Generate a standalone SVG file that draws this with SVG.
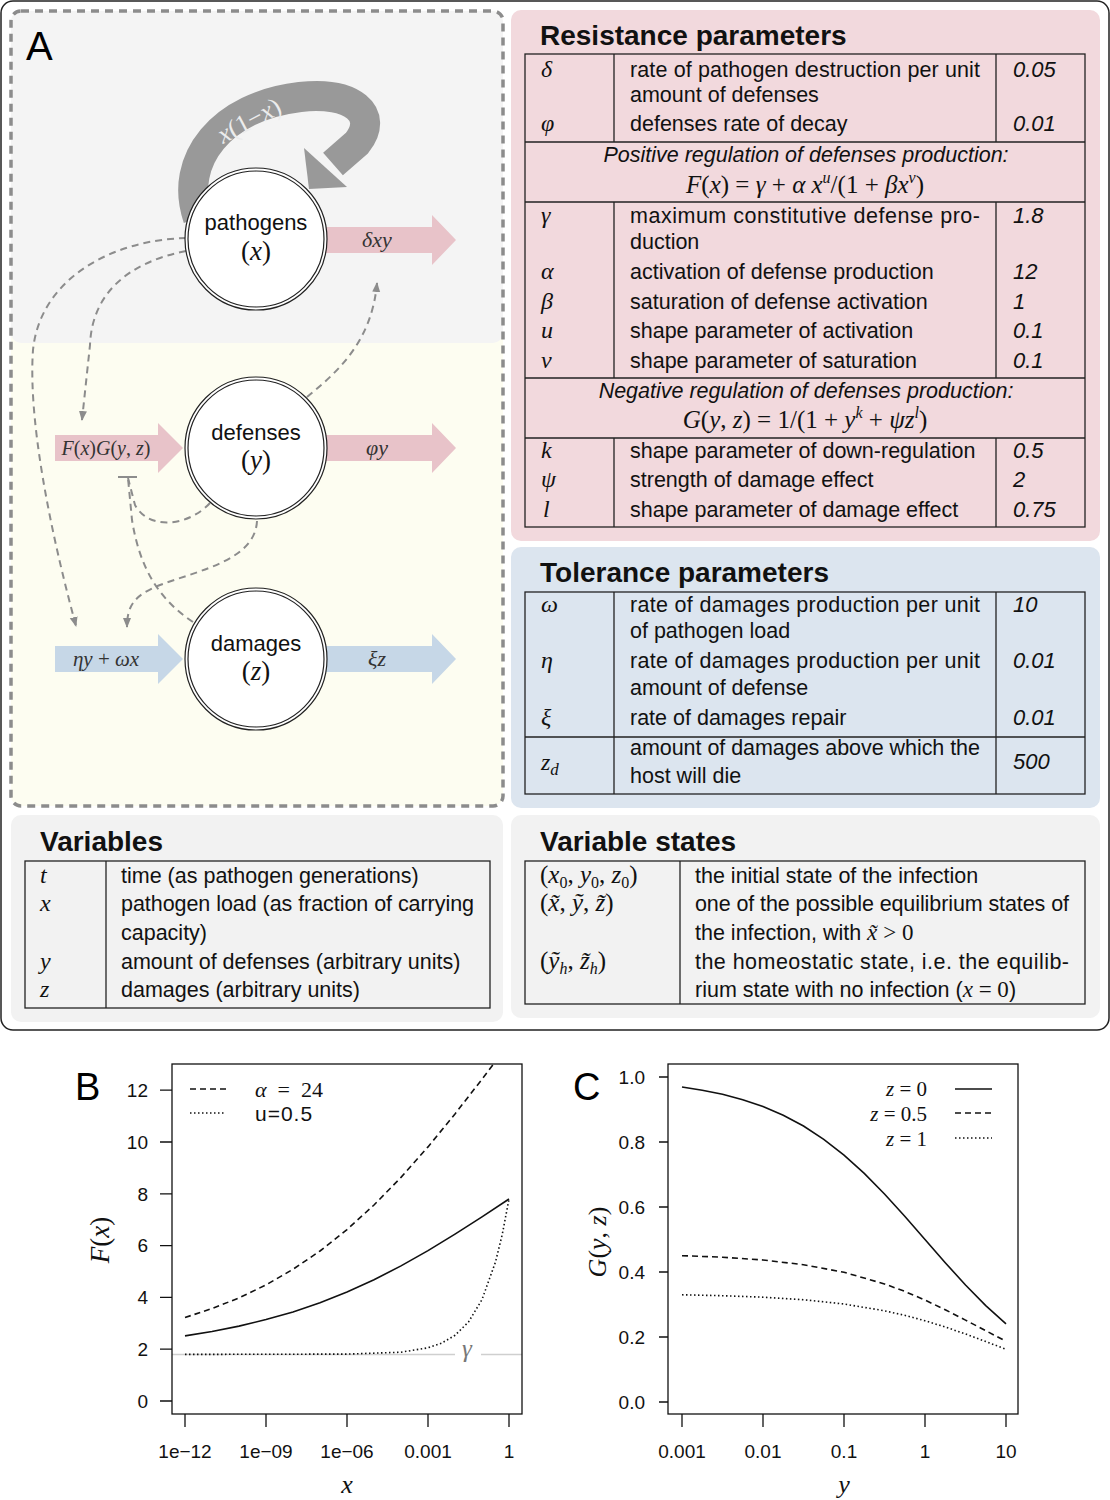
<svg xmlns="http://www.w3.org/2000/svg" width="1110" height="1500" viewBox="0 0 1110 1500">
<style>
.sans{font-family:"Liberation Sans",Arial,sans-serif}
.serif{font-family:"Liberation Serif","Times New Roman",serif}
.mi{font-family:"Liberation Serif","Times New Roman",serif;font-style:italic}
.tb{font-size:21.5px;fill:#111}
.ttl{font-family:"Liberation Sans",Arial,sans-serif;font-size:28px;font-weight:bold;fill:#111}
.val{font-family:"Liberation Sans",Arial,sans-serif;font-style:italic;font-size:22px;fill:#111}
.tl{stroke:#222;stroke-width:1.3;fill:none}
.dash{stroke:#8c8c8c;stroke-width:2;stroke-dasharray:7 5;fill:none}
.ring{fill:none;stroke:#222;stroke-width:1.2}
.pink{fill:#e8c3c9}
.blue{fill:#c6d7e7}
.tick{font-family:"Liberation Sans",Arial,sans-serif;font-size:19px;fill:#111}
.ax{stroke:#111;stroke-width:1.3;fill:none}
.cv{stroke:#111;stroke-width:1.6;fill:none}
</style>
<defs>
<marker id="ah" viewBox="0 0 10 10" refX="9" refY="5" markerWidth="10" markerHeight="10" markerUnits="userSpaceOnUse" orient="auto"><path d="M0,1 L10,5 L0,9 z" fill="#8c8c8c"/></marker>
</defs>

<!-- outer frame -->
<rect x="1" y="1" width="1108" height="1029" rx="12" fill="#fff" stroke="#222" stroke-width="1.5"/>

<!-- panel A backgrounds -->
<g id="panelA-bg">
<rect x="11" y="11" width="492" height="795" rx="10" fill="#fdfdf1"/>
<rect x="11" y="11" width="492" height="332" rx="10" fill="#f4f4f4"/>
<rect x="11" y="11" width="492" height="795" rx="10" fill="none" stroke="#8c8c8c" stroke-width="3.5" stroke-dasharray="8 6"/>
<text x="26" y="60" class="sans" font-size="40" fill="#000">A</text>
</g>

<!-- self loop -->
<g id="growth-loop">
<path d="M198 218 C178 160 222 106 300 97 C352 91 380 114 357 143 L333 164" fill="none" stroke="#999" stroke-width="30"/>
<polygon points="304,148 347,187 309,189" fill="#999"/>
<text transform="translate(253,128) rotate(-28)" text-anchor="middle" class="serif" font-size="26" fill="#ececec"><tspan font-style="italic">x</tspan>(1−<tspan font-style="italic">x</tspan>)</text>
</g>

<!-- flow arrows -->
<g id="flow-pathogen-out">
<polygon class="pink" points="320,227 432,227 432,215 456,240 432,265 432,253 320,253"/>
<text x="377" y="247" text-anchor="middle" class="mi" font-size="22" fill="#333">δxy</text>
</g>
<g id="flow-defense-in">
<polygon class="pink" points="55,435 158,435 158,423 183,448 158,473 158,461 55,461"/>
<text x="106" y="455" text-anchor="middle" class="mi" font-size="20" fill="#333">F<tspan font-style="normal">(</tspan>x<tspan font-style="normal">)</tspan>G<tspan font-style="normal">(</tspan>y<tspan font-style="normal">, </tspan>z<tspan font-style="normal">)</tspan></text>
</g>
<g id="flow-defense-out">
<polygon class="pink" points="320,435 432,435 432,423 456,448 432,473 432,461 320,461"/>
<text x="377" y="455" text-anchor="middle" class="mi" font-size="22" fill="#333">φy</text>
</g>
<g id="flow-damage-in">
<polygon class="blue" points="55,646 158,646 158,634 183,659 158,684 158,672 55,672"/>
<text x="106" y="666" text-anchor="middle" class="mi" font-size="21" fill="#333">ηy <tspan font-style="normal">+</tspan> ωx</text>
</g>
<g id="flow-damage-out">
<polygon class="blue" points="320,646 432,646 432,634 456,659 432,684 432,672 320,672"/>
<text x="377" y="666" text-anchor="middle" class="mi" font-size="22" fill="#333">ξz</text>
</g>

<!-- connectors -->
<g id="connectors">
<path class="dash" d="M186 238 C110 240 40 280 33 350 C28 420 50 530 76 626" marker-end="url(#ah)"/>
<path class="dash" d="M186 251 C130 262 92 292 90 345 L82 420" marker-end="url(#ah)"/>
<path class="dash" d="M307 397 C340 370 372 340 377 283" marker-end="url(#ah)"/>
<path class="dash" d="M210 503 C190 525 150 532 135 505 L128 478"/>
<path class="dash" d="M193 622 C160 600 140 570 132 520 L128 478"/>
<path d="M118 477 L137 477" stroke="#8c8c8c" stroke-width="2"/>
<path class="dash" d="M257 521 C255 560 200 570 160 585 C135 595 127 605 127 627" marker-end="url(#ah)"/>
</g>

<!-- nodes -->
<g id="node-pathogens">
<circle cx="256" cy="239" r="71" fill="#fff"/>
<circle class="ring" cx="256" cy="239" r="71"/>
<circle class="ring" cx="256" cy="239" r="68"/>
<text x="256" y="230" text-anchor="middle" class="sans" font-size="22" fill="#111">pathogens</text>
<text x="256" y="260" text-anchor="middle" class="serif" font-size="27" fill="#111">(<tspan font-style="italic">x</tspan>)</text>
</g>
<g id="node-defenses">
<circle cx="256" cy="448" r="71" fill="#fff"/>
<circle class="ring" cx="256" cy="448" r="71"/>
<circle class="ring" cx="256" cy="448" r="68"/>
<text x="256" y="440" text-anchor="middle" class="sans" font-size="22" fill="#111">defenses</text>
<text x="256" y="469" text-anchor="middle" class="serif" font-size="27" fill="#111">(<tspan font-style="italic">y</tspan>)</text>
</g>
<g id="node-damages">
<circle cx="256" cy="659" r="71" fill="#fff"/>
<circle class="ring" cx="256" cy="659" r="71"/>
<circle class="ring" cx="256" cy="659" r="68"/>
<text x="256" y="651" text-anchor="middle" class="sans" font-size="22" fill="#111">damages</text>
<text x="256" y="680" text-anchor="middle" class="serif" font-size="27" fill="#111">(<tspan font-style="italic">z</tspan>)</text>
</g>

<!-- Resistance parameters -->
<g id="resistance">
<rect x="511" y="10" width="589" height="531" rx="10" fill="#f2d9dd"/>
<text x="540" y="45" class="ttl">Resistance parameters</text>
<rect class="tl" x="525" y="54" width="560" height="473"/>
<path class="tl" d="M525 142 H1085 M525 202 H1085 M525 378 H1085 M525 438 H1085 M614 54 V142 M996 54 V142 M614 202 V378 M996 202 V378 M614 438 V527 M996 438 V527"/>
<g class="mi" font-size="24" fill="#111">
<text x="541" y="77">δ</text><text x="541" y="131">φ</text>
<text x="541" y="223">γ</text><text x="541" y="279">α</text><text x="541" y="309">β</text><text x="541" y="338">u</text><text x="541" y="368">v</text>
<text x="541" y="458">k</text><text x="541" y="487">ψ</text><text x="543" y="517">l</text>
</g>
<g class="sans tb">
<text x="630" y="77" textLength="350" lengthAdjust="spacing">rate of pathogen destruction per unit</text>
<text x="630" y="102">amount of defenses</text>
<text x="630" y="131">defenses rate of decay</text>
<text x="630" y="223" textLength="350" lengthAdjust="spacing">maximum constitutive defense pro-</text>
<text x="630" y="249">duction</text>
<text x="630" y="279">activation of defense production</text>
<text x="630" y="309">saturation of defense activation</text>
<text x="630" y="338">shape parameter of activation</text>
<text x="630" y="368">shape parameter of saturation</text>
<text x="630" y="458">shape parameter of down-regulation</text>
<text x="630" y="487">strength of damage effect</text>
<text x="630" y="517">shape parameter of damage effect</text>
<text x="806" y="162" text-anchor="middle" font-style="italic">Positive regulation of defenses production:</text>
<text x="806" y="398" text-anchor="middle" font-style="italic">Negative regulation of defenses production:</text>
</g>
<g class="val">
<text x="1013" y="77">0.05</text><text x="1013" y="131">0.01</text>
<text x="1013" y="223">1.8</text><text x="1013" y="279">12</text><text x="1013" y="309">1</text><text x="1013" y="338">0.1</text><text x="1013" y="368">0.1</text>
<text x="1013" y="458">0.5</text><text x="1013" y="487">2</text><text x="1013" y="517">0.75</text>
</g>
<text x="805" y="193" text-anchor="middle" class="serif" font-size="25" fill="#111" xml:space="preserve"><tspan font-style="italic">F</tspan>(<tspan font-style="italic">x</tspan>) = <tspan font-style="italic">γ</tspan> + <tspan font-style="italic">α x</tspan><tspan dy="-10" font-size="16" font-style="italic">u</tspan><tspan dy="10">/(1 + </tspan><tspan font-style="italic">βx</tspan><tspan dy="-10" font-size="16" font-style="italic">v</tspan><tspan dy="10">)</tspan></text>
<text x="805" y="428" text-anchor="middle" class="serif" font-size="25" fill="#111" xml:space="preserve"><tspan font-style="italic">G</tspan>(<tspan font-style="italic">y</tspan>, <tspan font-style="italic">z</tspan>) = 1/(1 + <tspan font-style="italic">y</tspan><tspan dy="-10" font-size="16" font-style="italic">k</tspan><tspan dy="10"> + </tspan><tspan font-style="italic">ψz</tspan><tspan dy="-10" font-size="16" font-style="italic">l</tspan><tspan dy="10">)</tspan></text>
</g>

<!-- Tolerance parameters -->
<g id="tolerance">
<rect x="511" y="547" width="589" height="261" rx="10" fill="#dce5ef"/>
<text x="540" y="582" class="ttl">Tolerance parameters</text>
<rect class="tl" x="525" y="592" width="560" height="202"/>
<path class="tl" d="M525 737 H1085 M614 592 V794 M996 592 V794"/>
<g class="mi" font-size="24" fill="#111">
<text x="541" y="612">ω</text><text x="541" y="668">η</text><text x="541" y="725">ξ</text>
<text x="541" y="770">z<tspan dy="5" font-size="17">d</tspan></text>
</g>
<g class="sans tb">
<text x="630" y="612" textLength="350" lengthAdjust="spacing">rate of damages production per unit</text>
<text x="630" y="638">of pathogen load</text>
<text x="630" y="668" textLength="350" lengthAdjust="spacing">rate of damages production per unit</text>
<text x="630" y="695">amount of defense</text>
<text x="630" y="725">rate of damages repair</text>
<text x="630" y="755" textLength="350" lengthAdjust="spacing">amount of damages above which the</text>
<text x="630" y="783">host will die</text>
</g>
<g class="val">
<text x="1013" y="612">10</text><text x="1013" y="668">0.01</text><text x="1013" y="725">0.01</text><text x="1013" y="769">500</text>
</g>
</g>

<!-- Variables -->
<g id="variables">
<rect x="11" y="815" width="492" height="207" rx="10" fill="#f2f2f2"/>
<text x="40" y="851" class="ttl">Variables</text>
<rect class="tl" x="25" y="861" width="465" height="147"/>
<path class="tl" d="M106 861 V1008"/>
<g class="mi" font-size="24" fill="#111">
<text x="40" y="883">t</text><text x="40" y="911">x</text><text x="40" y="969">y</text><text x="40" y="997">z</text>
</g>
<g class="sans tb">
<text x="121" y="883">time (as pathogen generations)</text>
<text x="121" y="911" textLength="353" lengthAdjust="spacing">pathogen load (as fraction of carrying</text>
<text x="121" y="940">capacity)</text>
<text x="121" y="969">amount of defenses (arbitrary units)</text>
<text x="121" y="997">damages (arbitrary units)</text>
</g>
</g>

<!-- Variable states -->
<g id="variable-states">
<rect x="511" y="815" width="589" height="203" rx="10" fill="#f2f2f2"/>
<text x="540" y="851" class="ttl">Variable states</text>
<rect class="tl" x="525" y="861" width="560" height="143"/>
<path class="tl" d="M680 861 V1004"/>
<g class="serif" font-size="25" fill="#111" xml:space="preserve">
<text x="540" y="883">(<tspan font-style="italic">x</tspan><tspan dy="5" font-size="16">0</tspan><tspan dy="-5">, </tspan><tspan font-style="italic">y</tspan><tspan dy="5" font-size="16">0</tspan><tspan dy="-5">, </tspan><tspan font-style="italic">z</tspan><tspan dy="5" font-size="16">0</tspan><tspan dy="-5">)</tspan></text>
<text x="540" y="911">(<tspan font-style="italic">x̃</tspan>, <tspan font-style="italic">ỹ</tspan>, <tspan font-style="italic">z̃</tspan>)</text>
<text x="540" y="969">(<tspan font-style="italic">ỹ</tspan><tspan dy="5" font-size="16" font-style="italic">h</tspan><tspan dy="-5">, </tspan><tspan font-style="italic">z̃</tspan><tspan dy="5" font-size="16" font-style="italic">h</tspan><tspan dy="-5">)</tspan></text>
</g>
<g class="sans tb">
<text x="695" y="883">the initial state of the infection</text>
<text x="695" y="911" textLength="374" lengthAdjust="spacing">one of the possible equilibrium states of</text>
<text x="695" y="940">the infection, with <tspan class="mi" font-size="23">x̃</tspan> <tspan class="serif" font-size="23">&gt; 0</tspan></text>
<text x="695" y="969" textLength="374" lengthAdjust="spacing">the homeostatic state, i.e. the equilib-</text>
<text x="695" y="997">rium state with no infection (<tspan class="mi" font-size="23">x</tspan><tspan class="serif" font-size="23"> = 0</tspan>)</text>
</g>
</g>

<!-- Plot B -->
<g id="plotB">
<text x="75" y="1100" class="sans" font-size="38" fill="#000">B</text>
<line x1="172" y1="1354.4" x2="455" y2="1354.4" stroke="#cfcfcf" stroke-width="1.5"/>
<line x1="481" y1="1354.4" x2="522" y2="1354.4" stroke="#cfcfcf" stroke-width="1.5"/>
<text x="467" y="1357" text-anchor="middle" class="mi" font-size="25" fill="#777">γ</text>
<rect class="ax" x="172" y="1064" width="350" height="350"/>
<path class="ax" d="M160 1401 H172 M160 1349.2 H172 M160 1297.4 H172 M160 1245.6 H172 M160 1193.8 H172 M160 1142 H172 M160 1090.2 H172 M185 1414 V1427 M266 1414 V1427 M347 1414 V1427 M428 1414 V1427 M509 1414 V1427"/>
<g class="tick" text-anchor="end">
<text x="148" y="1408">0</text><text x="148" y="1356">2</text><text x="148" y="1304">4</text><text x="148" y="1252">6</text><text x="148" y="1201">8</text><text x="148" y="1149">10</text><text x="148" y="1097">12</text>
</g>
<g class="tick" text-anchor="middle">
<text x="185" y="1458">1e−12</text><text x="266" y="1458">1e−09</text><text x="347" y="1458">1e−06</text><text x="428" y="1458">0.001</text><text x="509" y="1458">1</text>
</g>
<text x="347" y="1493" text-anchor="middle" class="mi" font-size="26" fill="#111">x</text>
<text transform="translate(109,1240) rotate(-90)" text-anchor="middle" class="serif" font-size="27" fill="#111"><tspan font-style="italic">F</tspan>(<tspan font-style="italic">x</tspan>)</text>
<polyline class="cv" points="185,1335.9 212,1331.5 239,1326.1 266,1319.6 293,1311.9 320,1302.7 347,1292 374,1279.7 401,1265.9 428,1250.6 455,1234.1 482,1216.8 509,1199"/>
<polyline class="cv" stroke-dasharray="6 4" points="185,1317.5 212,1308.6 239,1297.9 266,1284.9 293,1269.3 320,1251 347,1229.6 374,1205 401,1177.4 428,1146.9 455,1113.9 482,1079.2 493.3,1064.3"/>
<polyline class="cv" stroke-dasharray="1.5 2.5" stroke-width="1.4" points="185,1354.4 347,1354.1 401,1352.2 428,1347.8 441.5,1343.2 455,1335.3 468.5,1322 482,1299.6 495.5,1262 502.25,1234.5 509,1199"/>
<line class="cv" x1="190" y1="1089" x2="226" y2="1089" stroke-dasharray="6 4"/>
<line class="cv" x1="190" y1="1113" x2="226" y2="1113" stroke-dasharray="1.5 2.5" stroke-width="1.4"/>
<text x="255" y="1097" class="serif" font-size="22" fill="#111" xml:space="preserve"><tspan font-style="italic">α</tspan>  =  24</text>
<text x="255" y="1121" class="sans" font-size="21" fill="#111" letter-spacing="1">u=0.5</text>
</g>

<!-- Plot C -->
<g id="plotC">
<text x="573" y="1100" class="sans" font-size="38" fill="#000">C</text>
<rect class="ax" x="668" y="1064" width="350" height="350"/>
<path class="ax" d="M659 1402 H668 M659 1337 H668 M659 1272 H668 M659 1207 H668 M659 1142 H668 M659 1077 H668 M682 1414 V1427 M763 1414 V1427 M844 1414 V1427 M925 1414 V1427 M1006 1414 V1427"/>
<g class="tick" text-anchor="end">
<text x="645" y="1409">0.0</text><text x="645" y="1344">0.2</text><text x="645" y="1279">0.4</text><text x="645" y="1214">0.6</text><text x="645" y="1149">0.8</text><text x="645" y="1084">1.0</text>
</g>
<g class="tick" text-anchor="middle">
<text x="682" y="1458">0.001</text><text x="763" y="1458">0.01</text><text x="844" y="1458">0.1</text><text x="925" y="1458">1</text><text x="1006" y="1458">10</text>
</g>
<text x="844" y="1493" text-anchor="middle" class="mi" font-size="26" fill="#111">y</text>
<text transform="translate(606,1242) rotate(-90)" text-anchor="middle" class="serif" font-size="26" fill="#111"><tspan font-style="italic">G</tspan>(<tspan font-style="italic">y</tspan>, <tspan font-style="italic">z</tspan>)</text>
<polyline class="cv" points="682,1087 702.25,1090.2 722.5,1094.3 742.75,1099.7 763,1106.5 783.25,1115.3 803.5,1126 823.75,1139.3 844,1155.1 864.25,1173.4 884.5,1194 904.75,1216.3 925,1239.5 945.25,1262.7 965.5,1285 985.75,1305.6 1006,1323.9"/>
<polyline class="cv" stroke-dasharray="6 4" points="682,1255.7 722.5,1257.2 763,1260 803.5,1264.7 844,1272.3 884.5,1283.9 904.75,1291.4 925,1300.1 945.25,1309.7 965.5,1320.1 985.75,1330.7 1006,1341.3"/>
<polyline class="cv" stroke-dasharray="1.5 2.5" stroke-width="1.4" points="682,1294.8 722.5,1295.7 763,1297.2 803.5,1299.7 844,1304 884.5,1310.8 904.75,1315.3 925,1320.75 945.25,1327 965.5,1334 985.75,1341.5 1006,1349.3"/>
<line class="cv" x1="955" y1="1089" x2="992" y2="1089"/>
<line class="cv" x1="955" y1="1113" x2="992" y2="1113" stroke-dasharray="6 4"/>
<line class="cv" x1="955" y1="1138" x2="992" y2="1138" stroke-dasharray="1.5 2.5" stroke-width="1.4"/>
<g class="serif" font-size="21" fill="#111" text-anchor="end" xml:space="preserve">
<text x="927" y="1096"><tspan font-style="italic">z</tspan>  =  0</text>
<text x="927" y="1121"><tspan font-style="italic">z</tspan>  =  0.5</text>
<text x="927" y="1146"><tspan font-style="italic">z</tspan>  =  1</text>
</g>
</g>
</svg>
